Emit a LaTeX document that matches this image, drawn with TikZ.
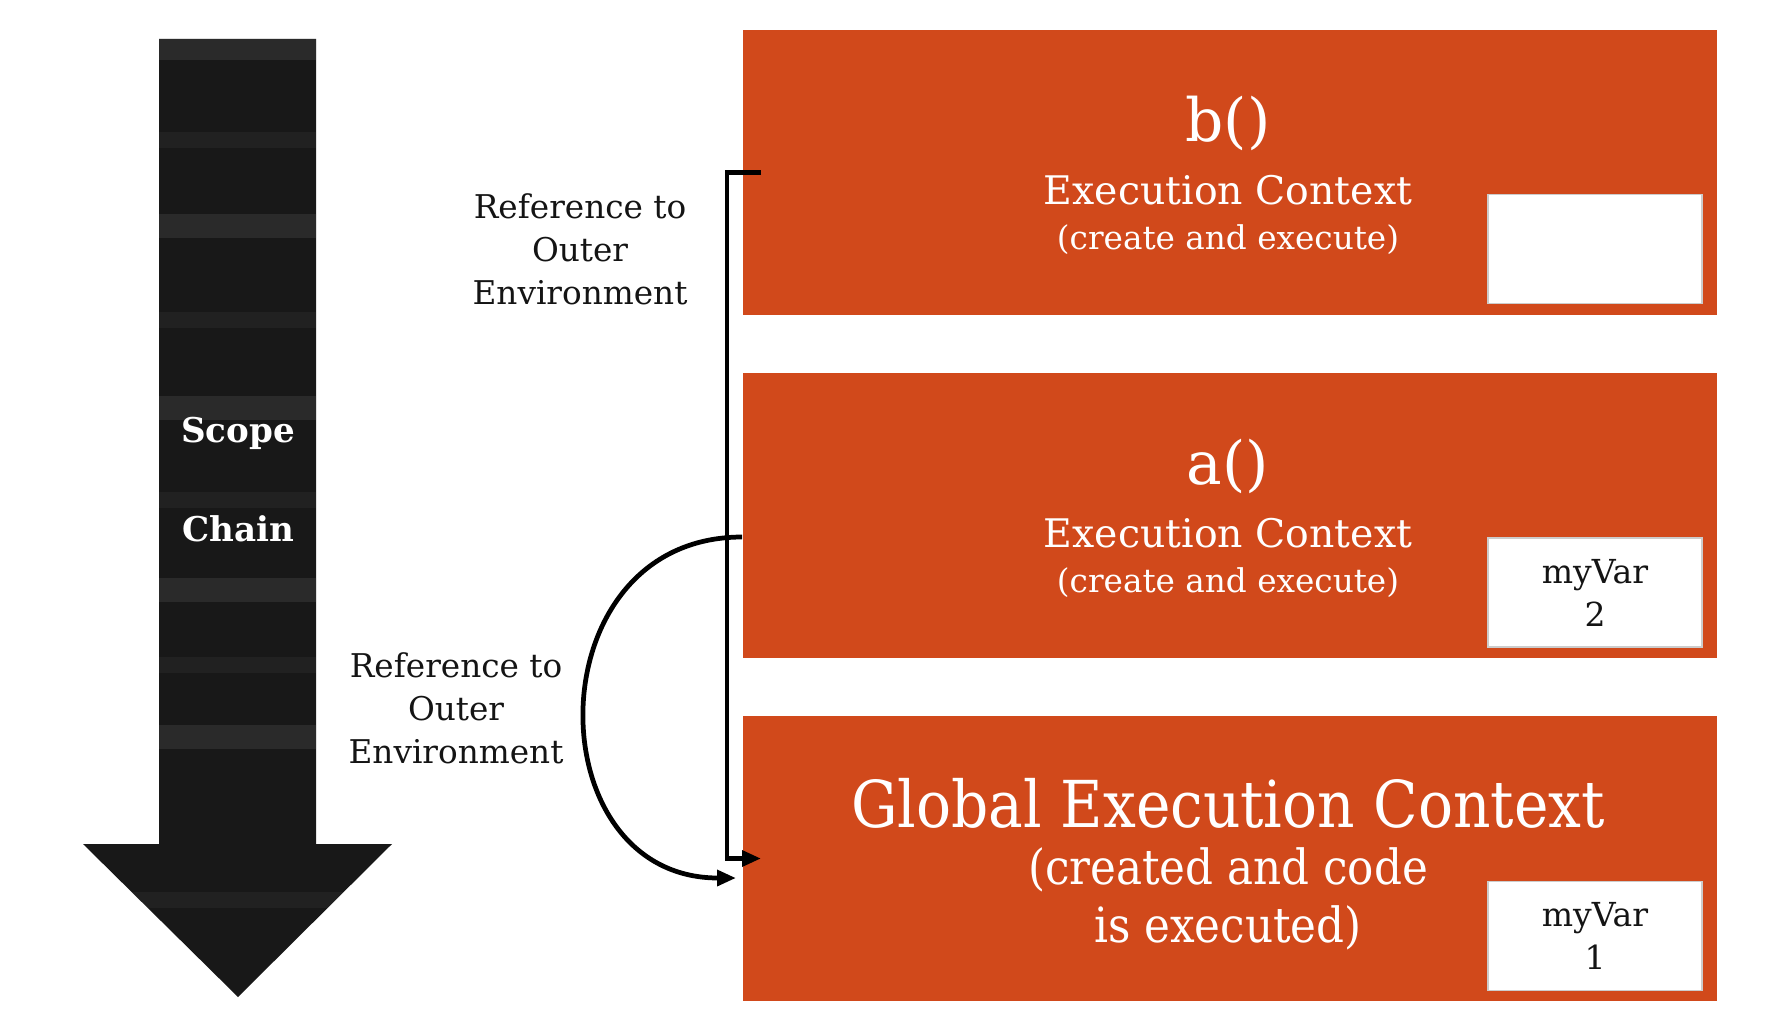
\documentclass[tikz,border=0pt]{standalone}
\usepackage{fontspec}
\setmainfont{DejaVu Serif}
\newfontfamily\condfont{DejaVu Serif Condensed}
\usetikzlibrary{arrows.meta}
\definecolor{CtxOrange}{HTML}{D1491B}
\definecolor{CtxInk}{HTML}{141414}
\definecolor{ChainDark}{HTML}{181818}
\definecolor{ChainBand}{HTML}{6A6A6A}

\begin{document}
\begin{tikzpicture}[
  x=0.01cm, y=-0.01cm,
  ctxbox/.style={fill=CtxOrange, minimum width=9.74cm, minimum height=2.84cm, inner sep=0pt},
  varbox/.style={fill=white, draw=black!20, line width=0.4pt, minimum width=2.14cm, minimum height=1.09cm, align=center, text=CtxInk, font=\fontsize{9.4}{12.2}\selectfont},
  fname/.style={text=white, font=\fontsize{17}{19}\selectfont},
  ectx/.style={text=white, font=\fontsize{11.2}{13}\selectfont},
  sub/.style={text=white, font=\fontsize{9.3}{11}\selectfont},
  reflabel/.style={align=center, text=CtxInk, font=\fontsize{9.3}{12.2}\selectfont},
  chainlabel/.style={text=white, font=\fontsize{9.7}{11}\selectfont\bfseries},
  ra/.style={-{Triangle[length=5.4pt,width=4.4pt]}, line width=1.35pt, draw=black}
]
\useasboundingbox (0,0) rectangle (1783,1028);

% scope chain arrow
\fill[ChainDark] (159,39) -- (316,39) -- (316,844) -- (392,844) -- (238,997) -- (83,844) -- (159,844) -- cycle;
\begin{scope}
  \clip (159,39) -- (316,39) -- (316,844) -- (392,844) -- (238,997) -- (83,844) -- (159,844) -- cycle;
  \foreach \b in {48,226,408,590,737}
    \fill[ChainBand, opacity=0.22] (70,\b-12) rectangle (400,\b+12);
  \foreach \b in {140,320,500,665,900}
    \fill[ChainBand, opacity=0.12] (70,\b-8) rectangle (400,\b+8);
\end{scope}
\node[chainlabel] (scope) at (238,433) {Scope};
\node[chainlabel] (chain) at (238,529) {Chain};

% execution contexts
\foreach \n/\y in {b/172.5, a/515.5}{
  \node[ctxbox] (ctx\n) at (1230,\y) {};
  \node[fname] (name\n) at (1228,\y-49) {\n()};
  \node[ectx] (ec\n) at (1228,\y+17.5) {Execution Context};
  \node[sub] (sub\n) at (1228,\y+67.5) {(create and execute)};
}
\node[ctxbox] (ctxg) at (1230,858.5) {};
\node[text=white, align=center, font=\condfont\fontsize{13.8}{16.5}\selectfont] (subg) at (1228,899) {(created and code\\is executed)};
\node[text=white, font=\condfont\fontsize{18.4}{20}\selectfont] (nameg) at (1228,803) {Global Execution Context};

\foreach \n/\y/\v in {b/249/{}, a/592.5/{myVar\\2}, g/936/{myVar\\1}}
  \node[varbox] (var\n) at (1595,\y) {\v};

% outer references
\node[reflabel] (refb) at (580,249) {Reference to\\Outer\\Environment};
\node[reflabel] (refa) at (456,708) {Reference to\\Outer\\Environment};
\draw[ra] ([xshift=0.19cm]ctxb.west) -- ([xshift=-0.15cm]ctxb.west) |- ([xshift=0.19cm]ctxg.west);
\draw[ra] ([yshift=-0.215cm]ctxa.west) .. controls (534,537) and (534,878) .. ([xshift=-0.06cm,yshift=-0.195cm]ctxg.west);
\end{tikzpicture}
\end{document}
